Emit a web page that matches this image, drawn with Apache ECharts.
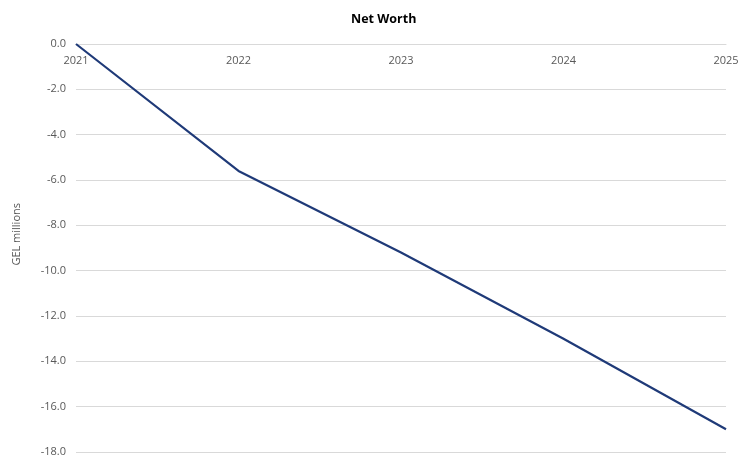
<!DOCTYPE html>
<html>
<head>
<meta charset="utf-8">
<script src="https://cdn.jsdelivr.net/npm/echarts@6/dist/echarts.min.js"></script>
<style>html,body{margin:0;padding:0;background:#fff}#c{width:744px;height:460px}</style>
</head>
<body>
<div id="c"></div>
<script>
const categories = ['2021', '2022', '2023', '2024', '2025'];
const netWorth = [0.0, -5.6, -9.2, -13.0, -17.0];
const titleText = 'Net Worth';
const yAxisName = 'GEL millions';

const chart = echarts.init(document.getElementById('c'));
const font = '"Open Sans", "Noto Sans", sans-serif';
chart.setOption({
  animation: false,
  title: {
    text: titleText, left: 346, top: 8,
    textStyle: { fontFamily: font, fontSize: 12.5, fontWeight: 'bold', color: '#000' }
  },
  grid: { left: 76, right: 18, top: 44, bottom: 8, outerBoundsMode: 'none', containLabel: false },
  xAxis: {
    type: 'category', data: categories, boundaryGap: false, position: 'top',
    axisLine: { onZero: false, lineStyle: { color: '#d9d9d9' } },
    axisTick: { show: false },
    axisLabel: { fontFamily: font, fontSize: 11, color: '#595959', inside: true, margin: 11 }
  },
  yAxis: {
    type: 'value', min: -18, max: 0, interval: 2,
    axisLine: { show: false }, axisTick: { show: false },
    splitLine: { lineStyle: { color: '#d9d9d9' } },
    axisLabel: { fontFamily: font, fontSize: 11, color: '#595959', margin: 10,
      formatter: v => v.toFixed(1) }
  },
  graphic: [{
    type: 'text', left: 11, top: 203, rotation: Math.PI / 2,
    style: { text: yAxisName, fontFamily: font, fontSize: 11, fill: '#595959' }
  }],
  series: [{
    type: 'line', data: netWorth, showSymbol: false,
    lineStyle: { color: '#1f3a78', width: 2.2 }
  }]
});
</script>
</body>
</html>
